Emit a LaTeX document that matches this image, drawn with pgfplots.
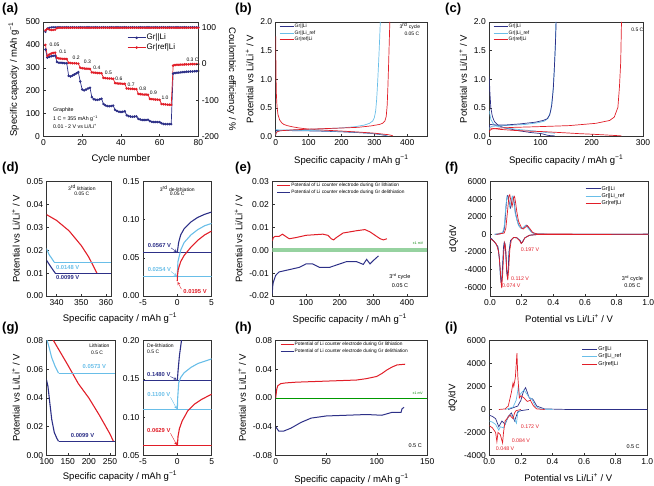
\documentclass[border=0pt]{standalone}
\usepackage{fontspec}
\setmainfont{Liberation Sans}
\usepackage{pgfplots}
\pgfplotsset{compat=1.18}
\definecolor{navy}{RGB}{45,48,135}
\definecolor{lblue}{RGB}{105,190,232}
\definecolor{rred}{RGB}{225,30,40}
\definecolor{gband}{RGB}{150,210,160}
\newcommand{\tf}{\fontsize{8.5}{9}\selectfont}
\newcommand{\lf}{\fontsize{9.5}{10}\selectfont}
\newcommand{\sm}[1]{\fontsize{#1}{#1}\selectfont}
\newcommand{\capl}{Specific capacity / mAh g\textsuperscript{−1}}
\newcommand{\potl}{Potential vs Li/Li\textsuperscript{+} / V}
\pgfplotsset{
 base/.style={scale only axis, axis line style={line width=0.6pt,draw=black!80},
   tick style={line width=0.5pt,draw=black!80}, major tick length=2.2pt, tick align=inside,
   tick pos=left, tick label style={font=\tf}, label style={font=\lf},
   scaled ticks=false, xlabel style={yshift=-2pt},
   /pgf/number format/assume math mode=true, /pgf/number format/set thousands separator={},
   legend cell align=left},
 leg/.style={legend style={draw=none, fill=none, inner sep=0pt, font=\sm{#1}, nodes={inner sep=0.5pt}, row sep=0.5pt}},
 limg/.style={legend image code/.code={\draw[##1, line width=1pt] (0pt,0pt) -- (#1,0pt);}},
 yf1/.style={yticklabel style={/pgf/number format/fixed,/pgf/number format/fixed zerofill,/pgf/number format/precision=1}},
 yf2/.style={yticklabel style={/pgf/number format/fixed,/pgf/number format/fixed zerofill,/pgf/number format/precision=2}},
 xf1/.style={xticklabel style={/pgf/number format/fixed,/pgf/number format/fixed zerofill,/pgf/number format/precision=1}},
}
\begin{document}
\begin{tikzpicture}
\path[use as bounding box] (0,0) rectangle (654pt,486pt);
% ================= (a) =================
\begin{axis}[base, at={(43.5pt,349.5pt)}, anchor=south west, width=154.8pt, height=114.5pt,
  xmin=0, xmax=80, ymin=0, ymax=500, xtick={0,20,40,60,80}, ytick={0,100,200,300,400,500},
  xlabel={Cycle number}, ylabel={\capl}, leg=8, legend style={at={(0.54,0.9)}, anchor=north west, row sep=1.5pt},
  legend image code/.code={\draw[mark repeat=2,mark phase=2,#1,line width=0.8pt] plot coordinates {(0pt,0pt) (9pt,0pt) (18pt,0pt)};}]
\addplot[navy, line width=0.7pt, mark=*, mark size=0.9pt] coordinates {
(1,380)(2,345)(3,348)(4,350)(5,352)(6,353)
(7,325)(8,322)(9,322)(10,321)(11,320)(12,320)
(13,265)(14,262)(15,266)(16,271)(17,276)(18,281)
(19,240)(20,205)(21,201)(22,205)(23,210)(24,213)
(25,172)(26,163)(27,160)(28,160)(29,162)(30,165)
(31,142)(32,136)(33,133)(34,132)(35,133)(36,135)
(37,116)(38,111)(39,108)(40,107)(41,108)(42,110)
(43,93)(44,89)(45,87)(46,86)(47,87)(48,88)
(49,77)(50,74)(51,72)(52,72)(53,72)(54,73)
(55,67)(56,64)(57,63)(58,63)(59,63)(60,63)
(61,58)(62,55)(63,54)(64,54)(65,54)(66,54)
(67,275)(68,277)(69,278)(70,279)(71,280)(72,281)(73,282)(74,283)(75,283)(76,284)(77,284)(78,285)(79,285)(80,286)};
\addlegendentry{Gr||Li}
\addplot[rred, line width=0.7pt, mark=*, mark size=0.9pt] coordinates {
(1,400)(2,352)(3,358)(4,362)(5,365)(6,366)
(7,343)(8,341)(9,340)(10,339)(11,339)(12,338)
(13,322)(14,321)(15,320)(16,320)(17,319)(18,318)
(19,300)(20,298)(21,297)(22,296)(23,296)(24,295)
(25,280)(26,279)(27,278)(28,277)(29,277)(30,276)
(31,256)(32,255)(33,254)(34,253)(35,253)(36,252)
(37,233)(38,232)(39,231)(40,231)(41,230)(42,230)
(43,210)(44,209)(45,208)(46,208)(47,207)(48,207)
(49,186)(50,185)(51,184)(52,183)(53,183)(54,182)
(55,164)(56,163)(57,162)(58,161)(59,161)(60,160)
(61,142)(62,141)(63,140)(64,139)(65,139)(66,138)
(67,310)(68,312)(69,313)(70,313)(71,314)(72,314)(73,315)(74,315)(75,315)(76,316)(77,316)(78,316)(79,316)(80,316)};
\addlegendentry{Gr|ref|Li}
\node[font=\sm{5}] at (axis cs:5.7,399) {0.05};
\node[font=\sm{5}] at (axis cs:10,370) {0.1};
\node[font=\sm{5}] at (axis cs:16.9,345) {0.2};
\node[font=\sm{5}] at (axis cs:22.7,326) {0.3};
\node[font=\sm{5}] at (axis cs:27.6,301) {0.4};
\node[font=\sm{5}] at (axis cs:33.5,279) {0.5};
\node[font=\sm{5}] at (axis cs:39,253) {0.6};
\node[font=\sm{5}] at (axis cs:45.3,228) {0.7};
\node[font=\sm{5}] at (axis cs:51.3,209) {0.8};
\node[font=\sm{5}] at (axis cs:56.8,189) {0.9};
\node[font=\sm{5}] at (axis cs:62.8,170) {1.0};
\node[font=\sm{5}] at (axis cs:77,335) {0.3 C};
\node[font=\sm{5.3}, anchor=west] at (axis cs:3.2,116) {Graphite};
\node[font=\sm{5.3}, anchor=west] at (axis cs:3.2,79) {1 C = 355 mAh g\textsuperscript{−1}};
\node[font=\sm{5.3}, anchor=west] at (axis cs:3.2,43) {0.01 - 2 V vs Li/Li\textsuperscript{+}};
\end{axis}
\begin{axis}[base, at={(43.5pt,349.5pt)}, anchor=south west, width=154.8pt, height=114.5pt,
  xmin=0, xmax=80, ymin=-200, ymax=115, axis x line=none, axis y line*=right,
  ytick pos=right, yticklabel pos=right,
  ytick={-200,-100,0,100}, ylabel={Coulombic efficiency / \%},
  ylabel style={rotate=180, at={(axis description cs:1.215,0.5)}, anchor=center}]
\addplot[navy, line width=0.7pt, mark=*, mark size=0.8pt] coordinates {
(1,88)(2,97)(3,99)(4,100)(5,100.5)(6,100.5)(7,100.5)(8,100.5)(9,100.5)(10,100.5)
(11,100.5)(12,100.5)(13,100.5)(14,100.5)(15,100.5)(16,100.5)(17,100.5)(18,100.5)(19,100.5)(20,100.5)
(21,100.5)(22,100.5)(23,100.5)(24,100.5)(25,100.5)(26,100.5)(27,100.5)(28,100.5)(29,100.5)(30,100.5)
(31,100.5)(32,100.5)(33,100.5)(34,100.5)(35,100.5)(36,100.5)(37,100.5)(38,100.5)(39,100.5)(40,100.5)
(41,100.5)(42,100.5)(43,100.5)(44,100.5)(45,100.5)(46,100.5)(47,100.5)(48,100.5)(49,100.5)(50,100.5)
(51,100.5)(52,100.5)(53,100.5)(54,100.5)(55,100.5)(56,100.5)(57,100.5)(58,100.5)(59,100.5)(60,100.5)
(61,100.5)(62,100.5)(63,100.5)(64,100.5)(65,100.5)(66,100.5)(67,100.5)(68,100.5)(69,100.5)(70,100.5)
(71,100.5)(72,100.5)(73,100.5)(74,100.5)(75,100.5)(76,100.5)(77,100.5)(78,100.5)(79,100.5)(80,100.5)};
\addplot[rred, line width=0.7pt, mark=*, mark size=0.8pt] coordinates {
(1,92)(2,96)(3,94)(4,93)(5,93)(6,94)(7,98)(8,99)(9,99)(10,99)
(11,99)(12,99)(13,99)(14,99)(15,99)(16,99)(17,99)(18,99)(19,99)(20,99)
(21,99)(22,99)(23,99)(24,99)(25,99)(26,99)(27,99)(28,99)(29,99)(30,99)
(31,99)(32,99)(33,99)(34,99)(35,99)(36,99)(37,99)(38,99)(39,99)(40,99)
(41,99)(42,99)(43,99)(44,99)(45,99)(46,99)(47,99)(48,99)(49,99)(50,99)
(51,99)(52,99)(53,99)(54,99)(55,99)(56,99)(57,99)(58,99)(59,99)(60,99)
(61,99)(62,99)(63,99)(64,99)(65,99)(66,99)(67,99)(68,99)(69,99)(70,99)
(71,99)(72,99)(73,99)(74,99)(75,99)(76,99)(77,99)(78,99)(79,99)(80,99)};
\end{axis}
% ================= (b) =================
\begin{axis}[base, at={(275.7pt,349.5pt)}, anchor=south west, width=151.3pt, height=114.5pt,
  xmin=0, xmax=460, ymin=0, ymax=2, xtick={0,100,200,300,400}, ytick={0,0.5,1,1.5,2}, yf1,
  xlabel={\capl}, ylabel={\potl}, leg=5, legend style={at={(0.022,0.99)}, anchor=north west}, limg=14pt]
\addplot[navy, line width=0.7pt] coordinates {(0,0.105)(20,0.105)(50,0.102)(100,0.098)(150,0.092)(200,0.082)(250,0.068)(280,0.058)(300,0.048)(320,0.032)(336,0.0155)(337.5,0.013)(339.5,0.0099)};
\addlegendentry{Gr||Li}
\addplot[lblue, line width=0.7pt] coordinates {(0,0.12)(10,0.115)(50,0.11)(100,0.104)(150,0.097)(200,0.088)(250,0.073)(300,0.053)(320,0.038)(336,0.0205)(337,0.018)(338,0.0165)(339,0.0148)};
\addlegendentry{Gr||Li\_ref}
\addplot[rred, line width=0.7pt] coordinates {(0,1.75)(1,1.05)(2,0.75)(4,0.52)(7,0.38)(12,0.29)(18,0.24)(25,0.21)(35,0.19)(50,0.17)(70,0.15)(90,0.135)(120,0.12)(150,0.11)(200,0.095)(250,0.078)(300,0.058)(336,0.0355)(340,0.033)(345,0.0285)(350,0.022)(353,0.017)(356.3,0.01)};
\addlegendentry{Gr|ref|Li}
\addplot[lblue, line width=0.7pt, forget plot] coordinates {(0,0.0254)(1,0.07)(5,0.095)(15,0.105)(50,0.115)(100,0.125)(150,0.135)(200,0.15)(240,0.17)(270,0.2)(285,0.23)(295,0.27)(300,0.33)(304,0.45)(307,0.65)(310,0.95)(313,1.3)(316,1.7)(318,2.0)};
\addplot[rred, line width=0.7pt, forget plot] coordinates {(0,0.0195)(1,0.055)(5,0.085)(15,0.1)(50,0.115)(100,0.128)(150,0.138)(200,0.148)(250,0.16)(290,0.185)(315,0.21)(325,0.23)(332,0.27)(336,0.35)(339,0.55)(341,0.85)(343,1.2)(345,1.6)(347,2.0)};
\node[font=\sm{5}] at (axis cs:408,1.93) {3\textsuperscript{rd} cycle};
\node[font=\sm{5}] at (axis cs:414,1.80) {0.05 C};
\end{axis}
% ================= (c) =================
\begin{axis}[base, at={(489.3pt,349.5pt)}, anchor=south west, width=153.7pt, height=114.5pt,
  xmin=0, xmax=300, ymin=0, ymax=2, xtick={0,100,200,300}, ytick={0,0.5,1,1.5,2}, yf1,
  xlabel={\capl}, ylabel={\potl}, leg=5, legend style={at={(0.024,0.99)}, anchor=north west}, limg=14pt]
\addplot[navy, line width=0.7pt] coordinates {(0,1.05)(1,0.8)(3,0.5)(6,0.35)(10,0.26)(18,0.19)(30,0.15)(58,0.1)(80,0.07)(100,0.052)(103,0.048)(108,0.035)(112,0.025)(118,0.016)(124,0.012)(128,0.0099)};
\addlegendentry{Gr||Li}
\addplot[lblue, line width=0.7pt] coordinates {(0,0.45)(3,0.3)(8,0.22)(15,0.18)(30,0.15)(60,0.12)(90,0.095)(100,0.081)(105,0.076)(112,0.068)(120,0.062)(128,0.0573)};
\addlegendentry{Gr||Li\_ref}
\addplot[rred, line width=0.7pt] coordinates {(0,0.15)(20,0.125)(50,0.105)(80,0.093)(100,0.087)(116,0.08)(130,0.073)(150,0.063)(175,0.05)(200,0.04)(225,0.028)(250,0.015)(258,0.01)};
\addlegendentry{Gr|ref|Li}
\addplot[lblue, line width=0.7pt, forget plot] coordinates {(0,0.11)(0.05,0.125)(0.2,0.145)(0.5,0.152)(1,0.158)(2,0.165)(3,0.17)(4,0.173)(5,0.176)(15,0.185)(40,0.195)(70,0.21)(95,0.24)(108,0.27)(115,0.32)(120,0.45)(124,0.75)(126.5,1.1)(128.5,1.5)(130,2.0)};
\addplot[navy, line width=0.7pt, forget plot] coordinates {(0,0.148)(0.1,0.16)(0.3,0.18)(0.6,0.2)(3,0.21)(10,0.2)(30,0.2)(60,0.22)(90,0.25)(105,0.28)(113,0.31)(118,0.38)(122,0.55)(125,0.85)(127,1.2)(129,1.6)(130.5,2.0)};
\addplot[rred, line width=0.7pt, forget plot] coordinates {(0,0.0629)(0.1,0.075)(0.3,0.085)(0.7,0.095)(1.5,0.108)(2.5,0.117)(3.5,0.123)(5,0.13)(25,0.15)(50,0.16)(90,0.17)(156,0.19)(208,0.23)(235,0.28)(244,0.34)(251,0.51)(254,0.86)(256.5,1.3)(258,2.0)};
\node[font=\sm{5}] at (axis cs:289,1.86) {0.5 C};
\end{axis}
% ================= (d) left =================
\begin{axis}[base, at={(46.7pt,190pt)}, anchor=south west, width=64.3pt, height=114.5pt,
  xmin=336, xmax=362, ymin=0, ymax=0.05, xtick={340,350,360}, ytick={0,0.01,0.02,0.03,0.04,0.05}, yf2,
  ylabel={\potl}]
\addplot[navy, line width=1.1pt] coordinates {(300,0.048)(320,0.032)(336,0.0155)(337.5,0.013)(339.5,0.0099)};
\addplot[lblue, line width=1.1pt] coordinates {(320,0.038)(336,0.0205)(337,0.018)(338,0.0165)(339,0.0148)};
\addplot[rred, line width=1.1pt] coordinates {(300,0.058)(336,0.0355)(340,0.033)(345,0.0285)(350,0.022)(353,0.017)(356.3,0.01)};
\addplot[lblue, line width=0.8pt] coordinates {(339,0.0148)(362,0.0148)};
\addplot[navy, line width=0.8pt] coordinates {(339.5,0.0099)(362,0.0099)};
\node[font=\sm{5}, align=center] at (axis cs:350.2,0.0462) {3\textsuperscript{rd} lithiation\\[-0.5pt]0.05 C};
\node[font=\bfseries\sm{5.8}, text=lblue] at (axis cs:344.5,0.0126) {0.0148 V};
\node[font=\bfseries\sm{5.8}, text=navy] at (axis cs:344.5,0.0082) {0.0099 V};
\end{axis}
% ================= (d) right =================
\begin{axis}[base, at={(143pt,190pt)}, anchor=south west, width=68.5pt, height=114.5pt,
  xmin=-5, xmax=5, ymin=0, ymax=0.15, xtick={-5,0,5}, ytick={0,0.05,0.1,0.15}, yf2]
\addplot[navy, line width=0.8pt] coordinates {(-5,0.0567)(5,0.0567)};
\addplot[lblue, line width=0.8pt] coordinates {(-5,0.0254)(5,0.0254)};
\addplot[navy, line width=1.1pt] coordinates {(0,0.0567)(0.2,0.07)(0.5,0.08)(1,0.088)(2,0.097)(3,0.103)(4,0.107)(5,0.11)};
\addplot[lblue, line width=1.1pt] coordinates {(0,0.0254)(0.1,0.045)(0.5,0.06)(1,0.07)(2,0.08)(3,0.087)(4,0.092)(5,0.095)};
\addplot[rred, line width=1.1pt] coordinates {(0,0.0195)(0.05,0.028)(0.15,0.035)(0.5,0.045)(1,0.053)(2,0.064)(3,0.073)(4,0.08)(5,0.085)};
\node[font=\sm{5}, align=center] at (axis cs:0,0.138) {3\textsuperscript{rd} de-lithiation\\[-0.5pt]0.05 C};
\node[font=\bfseries\sm{5.8}, text=navy] at (axis cs:-2.6,0.066) {0.0567 V};
\draw[navy, ->, >=stealth, thin] (axis cs:-0.9,0.063) -- (axis cs:-0.05,0.0575);
\node[font=\bfseries\sm{5.8}, text=lblue] at (axis cs:-2.6,0.035) {0.0254 V};
\draw[lblue, ->, >=stealth, thin] (axis cs:-0.9,0.032) -- (axis cs:-0.05,0.0262);
\node[font=\bfseries\sm{5.8}, text=rred] at (axis cs:2.6,0.0065) {0.0195 V};
\draw[rred, ->, >=stealth, thin] (axis cs:0.6,0.009) -- (axis cs:0.05,0.0185);
\end{axis}
% ================= (e) =================
\begin{axis}[base, at={(272.3pt,190pt)}, anchor=south west, width=155pt, height=114.5pt,
  xmin=0, xmax=460, ymin=-0.02, ymax=0.03, xtick={0,100,200,300,400}, ytick={-0.02,-0.01,0,0.01,0.02,0.03}, yf2,
  xlabel={\capl}, ylabel={\potl}, leg=4.8, legend style={at={(0.028,0.99)}, anchor=north west}, limg=13pt]
\addplot[rred, line width=1pt] coordinates {(0,0.004)(3,0.0055)(8,0.006)(20,0.006)(30,0.007)(40,0.006)(50,0.005)(70,0.0055)(100,0.0065)(150,0.007)(165,0.0065)(175,0.005)(182,0.0045)(190,0.0055)(210,0.0075)(250,0.0085)(275,0.009)(290,0.008)(305,0.0065)(320,0.005)(330,0.0045)(340,0.005)};
\addlegendentry{Potential of Li counter electrode during Gr lithiation}
\addplot[navy, line width=1pt] coordinates {(0,-0.019)(1,-0.016)(3,-0.014)(10,-0.011)(20,-0.0095)(50,-0.0085)(80,-0.0075)(100,-0.006)(120,-0.006)(140,-0.0075)(170,-0.0075)(200,-0.006)(220,-0.005)(250,-0.005)(270,-0.0062)(280,-0.004)(290,-0.006)(300,-0.0045)(315,-0.0025)};
\addlegendentry{Potential of Li counter electrode during Gr delithiation}
\addplot[draw=none, fill=gband, forget plot] coordinates {(0,-0.001)(460,-0.001)(460,0.001)(0,0.001)};
\node[font=\sm{3.5}, text=green!50!black, anchor=east] at (axis cs:458,0.0028) {±1 mV};
\node[font=\sm{5.5}] at (axis cs:379,-0.0116) {3\textsuperscript{rd} cycle};
\node[font=\sm{5.5}] at (axis cs:379,-0.0156) {0.05 C};
\end{axis}
% ================= (f) =================
\begin{axis}[base, at={(490pt,190pt)}, anchor=south west, width=158.3pt, height=114.5pt,
  xmin=0, xmax=1, ymin=-7000, ymax=6000, xtick={0,0.2,0.4,0.6,0.8,1}, xf1, ytick={-6000,-4000,-2000,0,2000,4000,6000},
  xlabel={\potl}, ylabel={dQ/dV}, leg=5.5, legend style={at={(0.6,0.965)}, anchor=north west, row sep=0.8pt}, limg=15pt]
\addplot[navy, line width=0.7pt] coordinates {(0.03,0)(0.06,30)(0.08,150)(0.09,600)(0.095,1500)(0.1,2800)(0.105,3900)(0.11,4400)(0.115,4300)(0.12,3800)(0.125,3200)(0.13,3000)(0.135,3400)(0.14,4100)(0.145,4300)(0.15,4000)(0.155,3300)(0.16,2500)(0.17,1700)(0.18,1100)(0.19,800)(0.2,650)(0.21,700)(0.22,900)(0.228,1050)(0.235,1000)(0.245,700)(0.26,300)(0.28,100)(0.3,40)(0.4,10)(0.6,5)(1.0,0)};
\addlegendentry{Gr||Li}
\addplot[lblue, line width=0.7pt] coordinates {(0.03,0)(0.08,200)(0.09,900)(0.1,3200)(0.108,4300)(0.115,4000)(0.125,3100)(0.14,4300)(0.15,3700)(0.16,2300)(0.18,1000)(0.2,650)(0.225,1000)(0.245,600)(0.27,150)(0.3,30)(1.0,0)};
\addlegendentry{Gr||Li\_ref}
\addplot[rred, line width=0.7pt] coordinates {(0.04,0)(0.09,150)(0.1,700)(0.11,2500)(0.12,4400)(0.125,4500)(0.13,4000)(0.14,3200)(0.15,4200)(0.155,4300)(0.16,3800)(0.17,2500)(0.18,1500)(0.2,700)(0.21,600)(0.235,1000)(0.25,700)(0.27,200)(0.3,40)(1.0,0)};
\addlegendentry{Gr|ref|Li}
\addplot[lblue, line width=0.7pt, forget plot] coordinates {(0,-450)(0.01,-550)(0.03,-900)(0.05,-1500)(0.06,-3000)(0.065,-4600)(0.07,-5300)(0.075,-4800)(0.08,-3200)(0.09,-1000)(0.095,-1100)(0.1,-2500)(0.105,-4300)(0.11,-4900)(0.115,-4000)(0.12,-2000)(0.13,-700)(0.15,-350)(0.17,-400)(0.19,-700)(0.197,-1000)(0.205,-800)(0.22,-400)(0.25,-100)(0.3,-20)(1.0,0)};
\addplot[navy, line width=0.7pt, forget plot] coordinates {(0,-400)(0.01,-500)(0.03,-900)(0.05,-1400)(0.06,-2800)(0.065,-4500)(0.07,-5400)(0.075,-5200)(0.08,-3500)(0.085,-1500)(0.09,-900)(0.095,-1100)(0.1,-2200)(0.105,-4000)(0.11,-4800)(0.115,-4000)(0.12,-2000)(0.13,-700)(0.15,-350)(0.17,-400)(0.19,-700)(0.197,-1000)(0.205,-900)(0.22,-400)(0.25,-100)(0.3,-20)(1.0,0)};
\addplot[rred, line width=0.7pt, forget plot] coordinates {(0,-500)(0.02,-700)(0.04,-1100)(0.055,-2000)(0.065,-4000)(0.07,-5500)(0.074,-6100)(0.08,-4500)(0.087,-2000)(0.093,-1000)(0.1,-1800)(0.106,-4200)(0.112,-5200)(0.118,-4000)(0.125,-1800)(0.135,-600)(0.15,-350)(0.17,-400)(0.19,-800)(0.197,-1050)(0.205,-900)(0.22,-400)(0.25,-100)(0.3,-20)(1.0,0)};
\node[font=\sm{5.3}, text=rred] at (axis cs:0.253,-1690) {0.197 V};
\node[font=\sm{5.3}, text=rred] at (axis cs:0.19,-5010) {0.112 V};
\node[font=\sm{5.3}, text=rred] at (axis cs:0.135,-5870) {0.074 V};
\node[font=\sm{5.5}] at (axis cs:0.9,-5000) {3\textsuperscript{rd} cycle};
\node[font=\sm{5.5}] at (axis cs:0.9,-5870) {0.05 C};
\end{axis}
% ================= (g) left =================
\begin{axis}[base, at={(46.7pt,30.5pt)}, anchor=south west, width=68.3pt, height=115pt,
  xmin=100, xmax=262, ymin=0, ymax=0.08, xtick={100,150,200,250}, ytick={0,0.02,0.04,0.06,0.08}, yf2,
  ylabel={\potl}]
\addplot[lblue, line width=1.1pt] coordinates {(90,0.095)(100,0.081)(105,0.076)(112,0.068)(120,0.062)(128,0.0573)};
\addplot[navy, line width=1.1pt] coordinates {(80,0.07)(100,0.052)(103,0.048)(108,0.035)(112,0.025)(118,0.016)(124,0.012)(128,0.0099)};
\addplot[rred, line width=1.1pt] coordinates {(100,0.087)(116,0.08)(130,0.073)(150,0.063)(175,0.05)(200,0.04)(225,0.028)(250,0.015)(258,0.01)};
\addplot[lblue, line width=0.8pt] coordinates {(128,0.0573)(262,0.0573)};
\addplot[navy, line width=0.8pt] coordinates {(128,0.0099)(262,0.0099)};
\node[font=\sm{5}, anchor=west] at (axis cs:193,0.0765) {Lithiation};
\node[font=\sm{5}, anchor=west] at (axis cs:197,0.0715) {0.5 C};
\node[font=\bfseries\sm{5.8}, text=lblue] at (axis cs:213,0.0617) {0.0573 V};
\node[font=\bfseries\sm{5.8}, text=navy] at (axis cs:185,0.014) {0.0099 V};
\end{axis}
% ================= (g) right =================
\begin{axis}[base, at={(143pt,30.5pt)}, anchor=south west, width=68.7pt, height=115pt,
  xmin=-5, xmax=5, ymin=0.05, ymax=0.2, xtick={-5,0,5}, ytick={0.05,0.1,0.15,0.2}, yf2]
\addplot[navy, line width=0.8pt] coordinates {(-5,0.148)(5,0.148)};
\addplot[lblue, line width=0.8pt] coordinates {(-5,0.11)(5,0.11)};
\addplot[rred, line width=0.8pt] coordinates {(-5,0.0629)(5,0.0629)};
\addplot[navy, line width=1.1pt] coordinates {(0,0.148)(0.1,0.16)(0.3,0.18)(0.6,0.2)(1,0.215)};
\addplot[lblue, line width=1.1pt] coordinates {(0,0.11)(0.05,0.125)(0.2,0.145)(0.5,0.152)(1,0.158)(2,0.165)(3,0.17)(4,0.173)(5,0.176)};
\addplot[rred, line width=1.1pt] coordinates {(0,0.0629)(0.1,0.075)(0.3,0.085)(0.7,0.095)(1.5,0.108)(2.5,0.117)(3.5,0.123)(5,0.13)};
\node[font=\sm{5}, anchor=west] at (axis cs:-4.9,0.1935) {De-lithiation};
\node[font=\sm{5}, anchor=west] at (axis cs:-4.9,0.185) {0.5 C};
\node[font=\bfseries\sm{5.8}, text=navy] at (axis cs:-2.7,0.156) {0.1480 V};
\draw[navy, ->, >=stealth, thin] (axis cs:-1.0,0.153) -- (axis cs:-0.08,0.1488);
\node[font=\bfseries\sm{5.8}, text=lblue] at (axis cs:-2.7,0.130) {0.1100 V};
\draw[lblue, ->, >=stealth, thin] (axis cs:-1.0,0.126) -- (axis cs:-0.08,0.1108);
\node[font=\bfseries\sm{5.8}, text=rred] at (axis cs:-2.7,0.083) {0.0629 V};
\draw[rred, ->, >=stealth, thin] (axis cs:-1.0,0.079) -- (axis cs:-0.08,0.0637);
\end{axis}
% ================= (h) =================
\begin{axis}[base, at={(275.7pt,30.5pt)}, anchor=south west, width=151.6pt, height=115pt,
  xmin=0, xmax=150, ymin=-0.08, ymax=0.08, xtick={0,50,100,150}, ytick={-0.08,-0.04,0,0.04,0.08}, yf2,
  xlabel={\capl}, ylabel={\potl}, leg=4.8, legend style={at={(0.028,0.99)}, anchor=north west}, limg=13pt]
\addplot[rred, line width=1pt] coordinates {(0,0)(1,0.012)(2,0.017)(5,0.02)(10,0.021)(20,0.022)(40,0.023)(60,0.024)(80,0.025)(90,0.027)(100,0.03)(105,0.034)(110,0.039)(115,0.043)(120,0.046)(128,0.047)};
\addlegendentry{Potential of Li counter electrode during Gr lithiation}
\addplot[navy, line width=1pt] coordinates {(0,-0.04)(3,-0.046)(8,-0.046)(15,-0.042)(25,-0.034)(35,-0.028)(50,-0.025)(70,-0.024)(90,-0.023)(105,-0.024)(110,-0.022)(115,-0.02)(124,-0.02)(125,-0.015)(127,-0.013)};
\addlegendentry{Potential of Li counter electrode during Gr delithiation}
\addplot[green!60!black, line width=0.5pt, forget plot] coordinates {(0,0)(150,0)};
\node[font=\sm{3.5}, text=green!50!black, anchor=east] at (axis cs:149,0.006) {±1 mV};
\node[font=\sm{5.5}] at (axis cs:138,-0.066) {0.5 C};
\end{axis}
% ================= (i) =================
\begin{axis}[base, at={(489.3pt,30.5pt)}, anchor=south west, width=158pt, height=115pt,
  xmin=0, xmax=1, ymin=-4000, ymax=6000, xtick={0,0.2,0.4,0.6,0.8,1}, xf1, ytick={-4000,-2000,0,2000,4000,6000},
  xlabel={\potl}, ylabel={dQ/dV}, leg=5.5, legend style={at={(0.585,0.952)}, anchor=north west, row sep=0.8pt}, limg=15pt]
\addplot[navy, line width=0.7pt] coordinates {(0.12,0)(0.18,300)(0.2,800)(0.21,1300)(0.22,1700)(0.23,1900)(0.24,1500)(0.25,1100)(0.26,900)(0.27,950)(0.28,800)(0.3,300)(0.35,50)(0.5,0)(1.0,0)};
\addlegendentry{Gr||Li}
\addplot[lblue, line width=0.7pt] coordinates {(0.1,0)(0.15,200)(0.17,800)(0.18,1600)(0.185,2200)(0.19,1200)(0.2,1400)(0.22,1700)(0.25,1100)(0.27,900)(0.29,300)(0.32,50)(0.4,0)};
\addlegendentry{Gr||Li\_ref}
\addplot[rred, line width=0.7pt] coordinates {(0.06,0)(0.1,50)(0.12,300)(0.14,1500)(0.15,2300)(0.155,2000)(0.165,2800)(0.175,4900)(0.18,3000)(0.19,1000)(0.2,1200)(0.22,1000)(0.24,700)(0.26,800)(0.28,300)(0.3,50)(0.35,0)};
\addlegendentry{Gr|ref|Li}
\addplot[navy, line width=0.7pt, forget plot] coordinates {(0,-500)(0.02,-600)(0.04,-800)(0.06,-1500)(0.08,-1000)(0.1,-1300)(0.12,-600)(0.14,-300)(0.16,-1000)(0.18,-200)(0.2,-100)(0.25,0)};
\addplot[lblue, line width=0.7pt, forget plot] coordinates {(0,-1000)(0.02,-1100)(0.04,-1300)(0.06,-1800)(0.07,-1500)(0.09,-1600)(0.11,-900)(0.13,-500)(0.15,-600)(0.165,-1000)(0.172,-1200)(0.18,-300)(0.2,0)};
\addplot[rred, line width=0.7pt, forget plot] coordinates {(0,-1400)(0.02,-1600)(0.04,-2000)(0.048,-2800)(0.055,-2000)(0.07,-2200)(0.084,-2900)(0.09,-2000)(0.1,-1000)(0.13,-500)(0.15,-800)(0.16,-300)(0.17,-100)(0.2,0)};
\node[font=\sm{5.3}, text=rred] at (axis cs:0.258,-1460) {0.172 V};
\node[font=\sm{5.3}, text=rred] at (axis cs:0.2,-2750) {0.084 V};
\node[font=\sm{5.3}, text=rred] at (axis cs:0.1,-3400) {0.048 V};
\node[font=\sm{5.5}] at (axis cs:0.91,-3200) {0.5 C};
\end{axis}
% ========== panel letters and shared labels ==========
\foreach \lab/\px/\py in {a/2/483, b/235/483, c/445/483, d/2/324, e/235/324, f/445/324, g/2/164, h/235/164, i/445/164}{
  \node[anchor=north west, inner sep=0pt, font=\fontsize{13}{13}\selectfont\bfseries] at (\px pt,\py pt) {(\lab)};
}
\node[font=\lf] at (120pt,168pt) {\capl};
\node[font=\lf] at (120pt,9.5pt) {\capl};
\end{tikzpicture}
\end{document}
